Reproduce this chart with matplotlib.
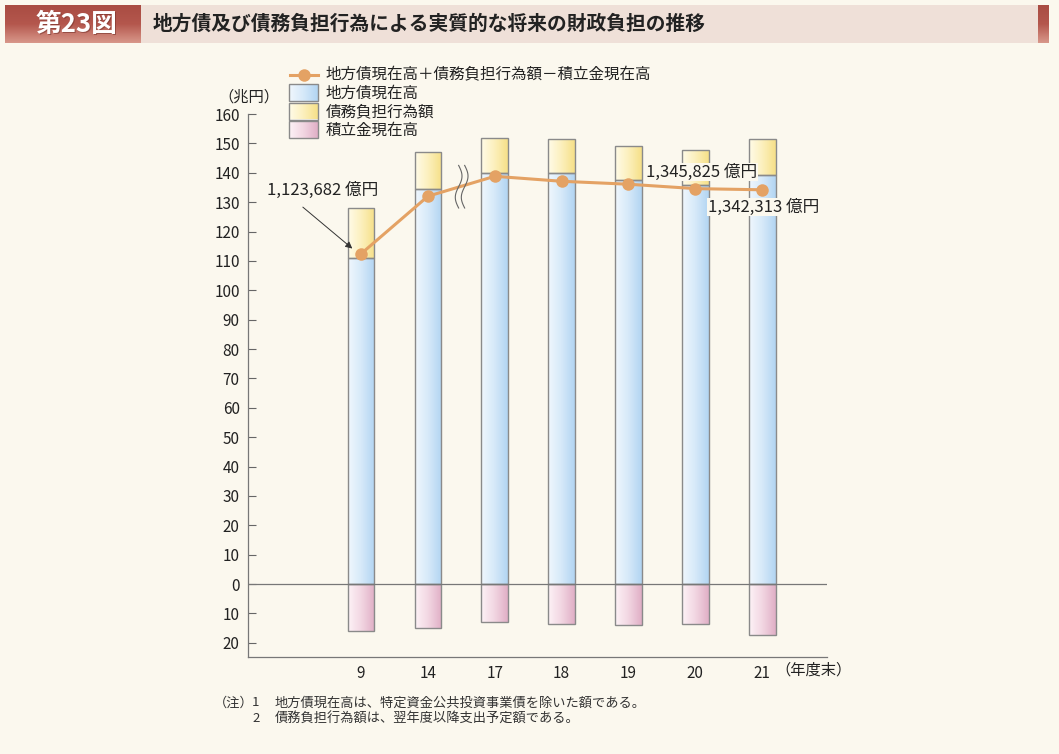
import numpy as np
import matplotlib
matplotlib.use('Agg')
import matplotlib.pyplot as plt
from matplotlib.colors import LinearSegmentedColormap
from matplotlib.patches import Rectangle
from matplotlib.lines import Line2D

plt.rcParams['font.family'] = ['Noto Sans CJK JP', 'DejaVu Sans']

# データ（兆円）
years = ['9', '14', '17', '18', '19', '20', '21']
chihousai = [110.9, 134.4, 139.8, 139.8, 137.4, 135.7, 139.1]      # 地方債現在高
saimu_futan = [17.0, 12.5, 12.2, 11.6, 11.6, 11.9, 12.3]            # 債務負担行為額
tsumitate = [16.0, 15.0, 12.9, 13.6, 13.9, 13.6, 17.3]              # 積立金現在高
jisshitsu = [112.4, 132.0, 138.8, 137.1, 136.1, 134.6, 134.2]       # 実質的な将来の財政負担

yticks = [160, 150, 140, 130, 120, 110, 100, 90, 80, 70, 60, 50, 40, 30, 20, 10, 0, -10, -20]
ytick_labels = [str(abs(v)) for v in yticks]

bg = '#fbf8ee'
orange = '#e4a264'

fig = plt.figure(figsize=(10.59, 7.54), dpi=100, facecolor=bg)

# タイトルバー
tb = fig.add_axes([0.005, 0.943, 0.985, 0.05])
tb.set_xlim(0, 1)
tb.set_ylim(0, 1)
tb.axis('off')
tb.add_patch(Rectangle((0.13, 0), 0.86, 1, color='#efe0d8', zorder=1))
grad_v = np.linspace(0, 1, 64).reshape(-1, 1)
red_cmap = LinearSegmentedColormap.from_list('red', ['#d8978a', '#b4574d', '#a94c43'])
tb.imshow(grad_v, extent=[0, 0.13, 0, 1], aspect='auto', cmap=red_cmap, origin='lower', zorder=2)
tb.imshow(grad_v, extent=[0.99, 1.0, 0, 1], aspect='auto', cmap=red_cmap, origin='lower', zorder=2)
tb.text(0.0695, 0.47, '第23図', color='#6a2a22', fontsize=18.5, fontweight='bold',
        ha='center', va='center', zorder=3, alpha=0.5)
tb.text(0.068, 0.5, '第23図', color='white', fontsize=18.5, fontweight='bold',
        ha='center', va='center', zorder=3)
tb.text(0.141, 0.5, '地方債及び債務負担行為による実質的な将来の財政負担の推移',
        color='#222222', fontsize=14.2, fontweight='bold', ha='left', va='center', zorder=3)

# メインの軸
ax = fig.add_axes([0.2342, 0.1286, 0.5468, 0.7202], facecolor=bg)
x = np.arange(len(years))

blue_cmap = LinearSegmentedColormap.from_list('b', ['#f0f7fd', '#d6e9f9', '#b2d5f2'])
yel_cmap = LinearSegmentedColormap.from_list('y', ['#fffbe8', '#fcf0bd', '#f6e088'])
pink_cmap = LinearSegmentedColormap.from_list('p', ['#fdf2f6', '#f2d6e2', '#e0afc6'])
grad_h = np.linspace(0, 1, 64).reshape(1, -1)

w = 0.40
b1 = ax.bar(x, chihousai, w, facecolor='none', edgecolor='#8a8a8a', linewidth=1, zorder=3)
b2 = ax.bar(x, saimu_futan, w, bottom=chihousai, facecolor='none', edgecolor='#8a8a8a',
            linewidth=1, zorder=3)
b3 = ax.bar(x, [-v for v in tsumitate], w, facecolor='none', edgecolor='#8a8a8a',
            linewidth=1, zorder=3)
for bars, cm in [(b1, blue_cmap), (b2, yel_cmap), (b3, pink_cmap)]:
    for p in bars:
        x0, y0 = p.get_x(), p.get_y()
        im = ax.imshow(grad_h, extent=[x0, x0 + p.get_width(), y0, y0 + p.get_height()],
                       aspect='auto', cmap=cm, zorder=2)
        im.set_clip_path(p)
ax.set_xlim(-1.69, 6.97)
ax.set_ylim(-24.85, 160)

ax.axhline(0, color='#777777', linewidth=0.9, zorder=4)

# 折れ線
ax.plot(x, jisshitsu, color=orange, linewidth=2.2, marker='o', markersize=9,
        markeredgewidth=0, zorder=5)

# 波線（省略記号）
t = np.linspace(0, 1, 60)
for dx in (-0.04, 0.05):
    ax.plot(1.50 + dx + 0.05 * np.sin(t * 2 * np.pi), 142.5 - t * 14.5, color='#666666',
            linewidth=0.8, zorder=6)

# 注記
ann_kw = dict(fontsize=12, color='#222222', zorder=7)
ax.text(-0.58, 134.1, '1,123,682 億円', ha='center', va='center', **ann_kw)
ax.annotate('', xy=(x[0] - 0.13, jisshitsu[0] + 1.8), xytext=(-0.87, 128.3),
            arrowprops=dict(arrowstyle='-|>', color='#333333', lw=0.7,
                            shrinkA=0, shrinkB=0, mutation_scale=10), zorder=7)
ax.text(x[5] + 0.1, 140.2, '1,345,825 億円', ha='center', va='center',
        bbox=dict(facecolor=bg, edgecolor='none', pad=0.5), **ann_kw)
ax.text(x[6] + 0.02, 128.3, '1,342,313 億円', ha='center', va='center',
        bbox=dict(facecolor=bg, edgecolor='none', pad=0.5), **ann_kw)

# 軸
ax.set_yticks(yticks)
ax.set_yticklabels(ytick_labels)
ax.set_xticks(x)
ax.set_xticklabels(years)
ax.tick_params(axis='y', direction='in', length=6, color='#666666', labelsize=11,
               labelcolor='#222222', pad=6)
ax.tick_params(axis='x', length=0, labelsize=11, labelcolor='#222222', pad=6)
for s in ['top', 'right']:
    ax.spines[s].set_visible(False)
for s in ['left', 'bottom']:
    ax.spines[s].set_color('#777777')
    ax.spines[s].set_linewidth(0.9)

ax.text(x[6] + 0.2, -29.4, '（年度末）', fontsize=11, ha='left', va='center', color='#222222')
fig.text(0.235, 0.871, '（兆円）', fontsize=11, ha='center', va='center', color='#222222')

# 凡例
lg = fig.add_axes([0, 0, 1, 1], facecolor='none')
lg.axis('off')
lg.add_line(Line2D([290, 318], [75, 75], color=orange, linewidth=2.2))
lg.plot([304], [75], 'o', color=orange, markersize=9, markeredgewidth=0)
legend_items = ['地方債現在高＋債務負担行為額－積立金現在高', '地方債現在高', '債務負担行為額', '積立金現在高']
for i, cm in enumerate([blue_cmap, yel_cmap, pink_cmap]):
    y0 = 84 + i * 18.5
    r = Rectangle((289, y0), 29, 17, facecolor='none', edgecolor='#8a8a8a', linewidth=1, zorder=3)
    lg.add_patch(r)
    im = lg.imshow(grad_h, extent=[289, 318, y0 + 17, y0], aspect='auto', cmap=cm, zorder=2)
    im.set_clip_path(r)
lg.set_xlim(0, 1059)
lg.set_ylim(754, 0)
for i, label in enumerate(legend_items):
    lg.text(326, 75 + i * 18.5, label, fontsize=11.2, ha='left', va='center', color='#222222')

# 脚注
note_kw = dict(fontsize=9.5, ha='left', va='center', color='#333333')
lg.text(214, 703, '（注）', **note_kw)
lg.text(252, 703, '1', **note_kw)
lg.text(275, 703, '地方債現在高は、特定資金公共投資事業債を除いた額である。', **note_kw)
lg.text(252, 719, '2', **note_kw)
lg.text(275, 719, '債務負担行為額は、翌年度以降支出予定額である。', **note_kw)

fig.savefig('out.png', dpi=100, facecolor=bg)
